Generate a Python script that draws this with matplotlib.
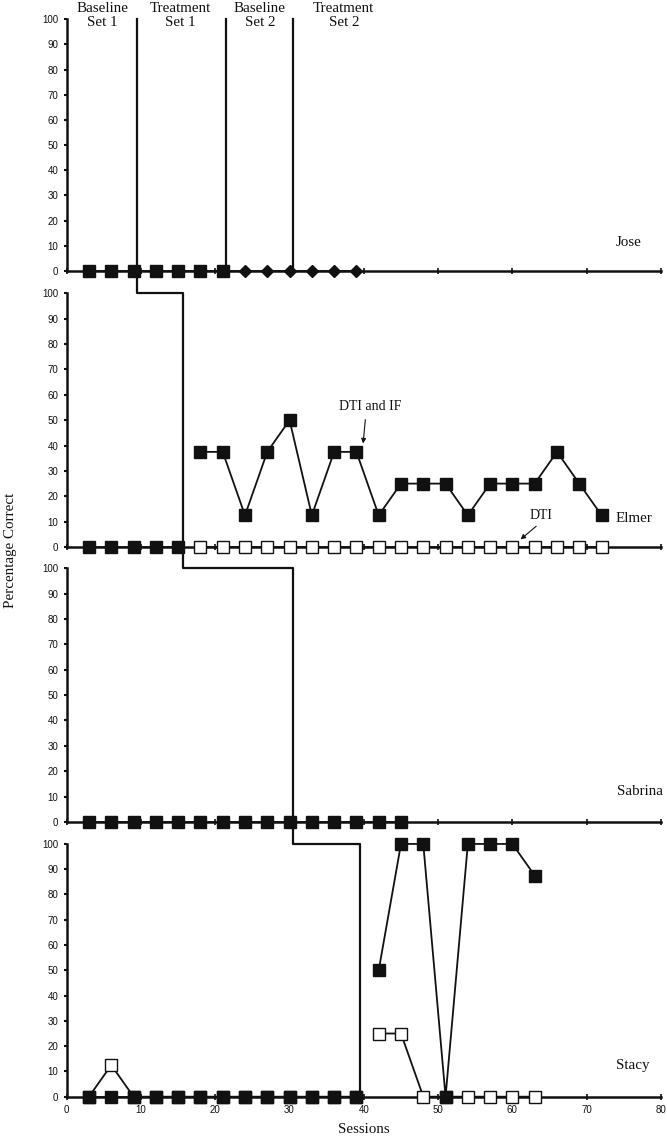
import matplotlib
matplotlib.use("Agg")
import matplotlib.pyplot as plt
from matplotlib.lines import Line2D

# ---------------- data ----------------
jose_base_x = [3, 6, 9, 12, 15, 18, 21]
jose_base_y = [0, 0, 0, 0, 0, 0, 0]
jose_set2_x = [24, 27, 30, 33, 36, 39]
jose_set2_y = [0, 0, 0, 0, 0, 0]

elmer_base_x = [3, 6, 9, 12, 15]
elmer_base_y = [0, 0, 0, 0, 0]
elmer_tx_x = [18, 21, 24, 27, 30, 33, 36, 39, 42, 45, 48, 51, 54, 57, 60, 63, 66, 69, 72]
elmer_dti_if = [37.5, 37.5, 12.5, 37.5, 50, 12.5, 37.5, 37.5, 12.5, 25, 25, 25, 12.5, 25, 25, 25, 37.5, 25, 12.5]
elmer_dti = [0] * 19

sabrina_x = [3, 6, 9, 12, 15, 18, 21, 24, 27, 30, 33, 36, 39, 42, 45]
sabrina_y = [0] * 15

stacy_base_x = [3, 6, 9, 12, 15, 18, 21, 24, 27, 30, 33, 36, 39]
stacy_base_filled = [0] * 13
stacy_base_open = [0, 12.5, 0, 0, 0, 0, 0, 0, 0, 0, 0, 0, 0]
stacy_tx_x = [42, 45, 48, 51, 54, 57, 60, 63]
stacy_tx_filled = [50, 100, 100, 0, 100, 100, 100, 87.5]
stacy_tx_open = [25, 25, 0, 0, 0, 0, 0, 0]

jose_phase_lines = [21.5, 30.5]
step_x = [9.5, 15.6, 30.5, 39.5]

phase_labels = ["Baseline\nSet 1", "Treatment\nSet 1", "Baseline\nSet 2", "Treatment\nSet 2"]
phase_label_x = [4.8, 15.3, 26.0, 37.3]
names = ["Jose", "Elmer", "Sabrina", "Stacy"]
name_x = [75.7, 76.3, 77.2, 76.2]
name_y = [11.5, 11.4, 12.0, 12.4]

yticks = list(range(0, 101, 10))
xticks = list(range(0, 81, 10))

# ---------------- figure ----------------
SERIF = ["Liberation Serif", "DejaVu Serif"]
SANS = ["Liberation Sans", "DejaVu Sans"]
INK = "#111111"

fig = plt.figure(figsize=(6.67, 11.38), dpi=100)

left, width = 0.100, 0.891
panels = [
    (0.7619, 0.2212),
    (0.5193, 0.2230),
    (0.2777, 0.2230),
    (0.0363, 0.2221),
]
axes = []
for i, (b, h) in enumerate(panels):
    ax = fig.add_axes([left, b, width, h])
    ax.set_xlim(0, 80)
    ax.set_ylim(0, 100)
    for s in ["top", "right"]:
        ax.spines[s].set_visible(False)
    for s in ["left", "bottom"]:
        ax.spines[s].set_linewidth(1.8)
        ax.spines[s].set_color(INK)
    ax.set_yticks(yticks)
    ax.set_xticks(xticks)
    ax.tick_params(axis="y", direction="out", length=2.5, width=1.5, pad=3.5,
                   labelsize=7, colors=INK)
    ax.tick_params(axis="x", direction="inout", length=4, width=1.2, pad=4,
                   labelsize=7, colors=INK)
    for lab in ax.get_yticklabels() + ax.get_xticklabels():
        lab.set_family(SANS)
    if i < 3:
        ax.set_xticklabels([])
    ax.patch.set_alpha(0)
    axes.append(ax)

filled = dict(marker="s", ms=8.5, mfc=INK, mec=INK, color=INK,
              lw=1.3, clip_on=False, zorder=4)
openm = dict(marker="s", ms=8.5, mfc="white", mec=INK, mew=1.0, color=INK,
             lw=1.3, clip_on=False, zorder=4)
diam = dict(marker="D", ms=6.3, mfc=INK, mec=INK, color=INK,
            lw=1.3, clip_on=False, zorder=4)

# Jose
a = axes[0]
a.plot(jose_base_x, jose_base_y, **filled)
a.plot(jose_set2_x, jose_set2_y, **diam)
a.plot([jose_base_x[-1], jose_set2_x[0]], [0, 0], color=INK, lw=1.3, clip_on=False, zorder=3)
for xv in jose_phase_lines:
    a.plot([xv, xv], [0, 100], color=INK, lw=1.6, clip_on=False, zorder=3)
for lbl, xv in zip(phase_labels, phase_label_x):
    a.text(xv, 101.4, lbl, ha="center", va="center", fontsize=10.8, family=SERIF,
           linespacing=1.12, color=INK)

# Elmer
a = axes[1]
a.plot(elmer_base_x, elmer_base_y, **filled)
a.plot(elmer_tx_x, elmer_dti, **openm)
a.plot(elmer_tx_x, elmer_dti_if, **filled)
a.annotate("", xy=(39.9, 40.8), xytext=(40.2, 50.2),
           arrowprops=dict(arrowstyle="-|>", color=INK, lw=0.8,
                           mutation_scale=7, shrinkA=0, shrinkB=0))
a.text(40.8, 55.3, "DTI and IF", ha="center", va="center", fontsize=10,
       family=SERIF, color=INK)
a.annotate("", xy=(61.1, 3.0), xytext=(63.2, 8.2),
           arrowprops=dict(arrowstyle="-|>", color=INK, lw=0.8,
                           mutation_scale=7, shrinkA=0, shrinkB=0))
a.text(63.9, 12.5, "DTI", ha="center", va="center", fontsize=10,
       family=SERIF, color=INK)

# Sabrina
a = axes[2]
a.plot(sabrina_x, sabrina_y, **filled)

# Stacy
a = axes[3]
a.plot(stacy_base_x, stacy_base_open, **openm)
a.plot(stacy_base_x, stacy_base_filled, **filled)
a.plot(stacy_tx_x, stacy_tx_open, **openm)
a.plot(stacy_tx_x, stacy_tx_filled, **filled)
a.set_xlabel("Sessions", fontsize=10.8, family=SERIF, labelpad=6, color=INK)

for a, nm, nx, ny in zip(axes, names, name_x, name_y):
    a.text(nx, ny, nm, ha="center", va="center", fontsize=10.8, family=SERIF,
           color=INK)

# staircase phase-change line across panels
def fig_pt(ax, x, y):
    d = ax.transData.transform((x, y))
    return fig.transFigure.inverted().transform(d)

pts = [
    fig_pt(axes[0], step_x[0], 100),
    fig_pt(axes[1], step_x[0], 100),
    fig_pt(axes[1], step_x[1], 100),
    fig_pt(axes[2], step_x[1], 100),
    fig_pt(axes[2], step_x[2], 100),
    fig_pt(axes[3], step_x[2], 100),
    fig_pt(axes[3], step_x[3], 100),
    fig_pt(axes[3], step_x[3], 0),
]
fig.add_artist(Line2D([p[0] for p in pts], [p[1] for p in pts],
                      transform=fig.transFigure, color=INK, lw=1.6, zorder=3))

fig.text(0.016, 0.5167, "Percentage Correct", rotation=90, ha="center", va="center",
         fontsize=10.8, family=SERIF, color=INK)

fig.savefig("out.png", dpi=100)
